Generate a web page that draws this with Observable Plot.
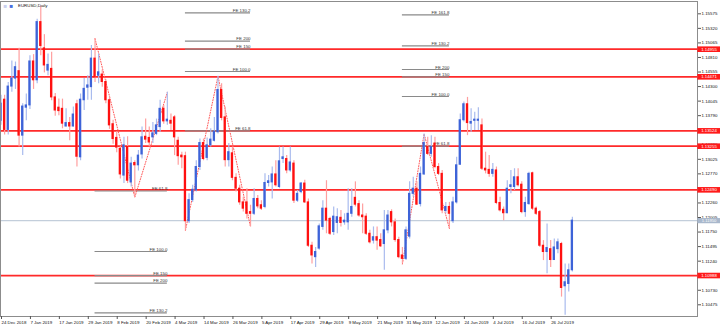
<!DOCTYPE html>
<html><head><meta charset="utf-8">
<script src="https://cdn.jsdelivr.net/npm/d3@7"></script>
<script src="https://cdn.jsdelivr.net/npm/@observablehq/plot@0.6"></script>
<style>
html,body{margin:0;padding:0;background:#fff;}
#chart{width:720px;height:329px;overflow:hidden;}
svg{display:block;}
</style></head><body><div id="chart"></div>
<script>
const title = "EURUSD,Daily";

const opens = [1.1370,1.1407,1.1354,1.1430,1.1444,1.1457,1.1344,1.1393,1.1397,1.1474,1.1441,1.1543,1.1497,1.1458,1.1461,1.1411,1.1393,1.1391,1.1360,1.1366,
1.1360,1.1399,1.1306,1.1406,1.1428,1.1429,1.1479,1.1449,1.1451,1.1438,1.1406,1.1364,1.1340,1.1321,1.1274,1.1324,1.1262,1.1296,1.1292,1.1311,
1.1342,1.1340,1.1341,1.1347,1.1359,1.1391,1.1369,1.1370,1.1376,1.1335,1.1309,1.1308,1.1194,1.1231,1.1248,1.1289,1.1331,1.1305,1.1327,1.1335,
1.1350,1.1424,1.1376,1.1301,1.1313,1.1270,1.1251,1.1227,1.1227,1.1210,1.1207,1.1233,1.1222,1.1219,1.1261,1.1262,1.1276,1.1254,1.1303,1.1303,
1.1283,1.1295,1.1230,1.1245,1.1260,1.1227,1.1151,1.1131,1.1146,1.1184,1.1216,1.1198,1.1175,1.1191,1.1200,1.1192,1.1192,1.1207,1.1235,1.1224,
1.1204,1.1202,1.1172,1.1160,1.1166,1.1161,1.1154,1.1178,1.1210,1.1192,1.1161,1.1134,1.1128,1.1167,1.1242,1.1251,1.1224,1.1276,1.1324,1.1312,
1.1330,1.1289,1.1277,1.1212,1.1219,1.1194,1.1227,1.1293,1.1371,1.1399,1.1365,1.1370,1.1370,1.1362,1.1286,1.1284,1.1277,1.1283,1.1226,1.1214,
1.1208,1.1254,1.1254,1.1271,1.1258,1.1210,1.1224,1.1278,1.1216,1.1210,1.1151,1.1140,1.1145,1.1126,1.1145,1.1154,1.1080,1.1084,1.1108];

const highs = [1.1415,1.1415,1.1437,1.1475,1.1473,1.1497,1.1400,1.1417,1.1484,1.1486,1.1548,1.1570,1.1521,1.1487,1.1490,1.1418,1.1408,1.1408,1.1391,1.1376,
1.1394,1.1406,1.1417,1.1444,1.1449,1.1502,1.1514,1.1487,1.1459,1.1442,1.1412,1.1371,1.1351,1.1325,1.1341,1.1342,1.1306,1.1300,1.1318,1.1359,
1.1373,1.1359,1.1367,1.1373,1.1406,1.1397,1.1420,1.1382,1.1379,1.1341,1.1315,1.1315,1.1242,1.1257,1.1300,1.1338,1.1338,1.1340,1.1356,1.1376,
1.1448,1.1435,1.1394,1.1330,1.1324,1.1277,1.1257,1.1236,1.1251,1.1222,1.1251,1.1239,1.1230,1.1277,1.1274,1.1289,1.1300,1.1324,1.1324,1.1309,
1.1324,1.1300,1.1248,1.1262,1.1266,1.1233,1.1157,1.1148,1.1189,1.1230,1.1265,1.1201,1.1219,1.1216,1.1213,1.1207,1.1251,1.1251,1.1263,1.1230,
1.1224,1.1207,1.1178,1.1184,1.1184,1.1172,1.1213,1.1213,1.1214,1.1198,1.1166,1.1148,1.1184,1.1263,1.1271,1.1263,1.1289,1.1347,1.1341,1.1344,
1.1341,1.1295,1.1283,1.1227,1.1227,1.1236,1.1306,1.1382,1.1403,1.1411,1.1391,1.1385,1.1393,1.1373,1.1315,1.1309,1.1295,1.1289,1.1236,1.1219,
1.1265,1.1283,1.1286,1.1286,1.1263,1.1236,1.1280,1.1280,1.1219,1.1213,1.1160,1.1189,1.1160,1.1163,1.1163,1.1157,1.1119,1.1119,1.1201];

const lows = [1.1362,1.1345,1.1345,1.1420,1.1425,1.1324,1.1309,1.1370,1.1390,1.1425,1.1435,1.1484,1.1454,1.1449,1.1405,1.1378,1.1379,1.1356,1.1359,1.1335,
1.1359,1.1289,1.1300,1.1388,1.1406,1.1406,1.1437,1.1435,1.1429,1.1400,1.1355,1.1329,1.1314,1.1268,1.1260,1.1260,1.1254,1.1236,1.1282,1.1303,
1.1330,1.1324,1.1330,1.1344,1.1350,1.1364,1.1362,1.1353,1.1309,1.1292,1.1286,1.1178,1.1190,1.1227,1.1245,1.1283,1.1300,1.1300,1.1324,1.1333,
1.1347,1.1370,1.1289,1.1289,1.1265,1.1245,1.1222,1.1210,1.1198,1.1184,1.1204,1.1216,1.1213,1.1216,1.1254,1.1233,1.1254,1.1251,1.1295,1.1277,
1.1280,1.1225,1.1227,1.1242,1.1225,1.1148,1.1119,1.1113,1.1143,1.1178,1.1172,1.1169,1.1169,1.1172,1.1184,1.1187,1.1178,1.1201,1.1219,1.1201,
1.1172,1.1169,1.1154,1.1154,1.1143,1.1148,1.1108,1.1172,1.1184,1.1157,1.1128,1.1119,1.1125,1.1163,1.1236,1.1222,1.1219,1.1274,1.1309,1.1306,
1.1286,1.1274,1.1207,1.1207,1.1181,1.1190,1.1224,1.1292,1.1368,1.1344,1.1350,1.1353,1.1353,1.1283,1.1277,1.1271,1.1271,1.1223,1.1210,1.1195,
1.1207,1.1242,1.1248,1.1254,1.1207,1.1201,1.1222,1.1213,1.1204,1.1148,1.1125,1.1102,1.1113,1.1125,1.1137,1.1061,1.1029,1.1070,1.1105];

const closes = [1.1400,1.1354,1.1430,1.1444,1.1464,1.1344,1.1395,1.1397,1.1474,1.1441,1.1543,1.1501,1.1467,1.1468,1.1411,1.1388,1.1387,1.1365,1.1366,1.1360,
1.1381,1.1307,1.1407,1.1426,1.1432,1.1479,1.1446,1.1455,1.1438,1.1406,1.1362,1.1338,1.1323,1.1276,1.1327,1.1265,1.1295,1.1292,1.1309,1.1341,
1.1337,1.1332,1.1348,1.1362,1.1391,1.1369,1.1372,1.1365,1.1341,1.1308,1.1306,1.1194,1.1231,1.1249,1.1289,1.1331,1.1303,1.1327,1.1337,1.1351,
1.1424,1.1375,1.1301,1.1315,1.1270,1.1251,1.1227,1.1216,1.1207,1.1207,1.1233,1.1220,1.1216,1.1261,1.1264,1.1276,1.1257,1.1299,1.1306,1.1283,
1.1297,1.1230,1.1242,1.1260,1.1227,1.1151,1.1134,1.1140,1.1185,1.1216,1.1195,1.1172,1.1202,1.1201,1.1191,1.1195,1.1207,1.1219,1.1223,1.1204,
1.1201,1.1172,1.1157,1.1166,1.1160,1.1150,1.1178,1.1204,1.1192,1.1161,1.1131,1.1128,1.1178,1.1242,1.1251,1.1223,1.1277,1.1331,1.1312,1.1324,
1.1289,1.1277,1.1213,1.1219,1.1207,1.1227,1.1292,1.1371,1.1399,1.1366,1.1368,1.1372,1.1372,1.1286,1.1283,1.1277,1.1284,1.1226,1.1213,1.1208,
1.1251,1.1257,1.1271,1.1257,1.1210,1.1226,1.1277,1.1216,1.1207,1.1151,1.1140,1.1147,1.1126,1.1148,1.1157,1.1077,1.1087,1.1108,1.1195];

const tickIndex = [0,8,16,24,32,40,48,56,64,72,80,88,96,104,112,120,128,136,144,152];
const tickLabels = ["24 Dec 2018","7 Jan 2019","17 Jan 2019","29 Jan 2019","8 Feb 2019","20 Feb 2019","4 Mar 2019","14 Mar 2019","26 Mar 2019","5 Apr 2019",
"17 Apr 2019","29 Apr 2019","9 May 2019","21 May 2019","31 May 2019","12 Jun 2019","24 Jun 2019","4 Jul 2019","16 Jul 2019","26 Jul 2019"];
const yTicks = [1.15575,1.15320,1.15065,1.14810,1.14555,1.14300,1.14045,1.13790,1.13535,1.13280,1.13025,1.12770,1.12515,1.12260,1.12005,1.11750,1.11495,1.11240,1.10985,1.10730,1.10475];

const redLevels = [1.14955,1.14471,1.13524,1.13255,1.12490,1.10988];

const feALabels = ["FE 61.8","FE 100.0","FE 150","FE 200","FE 130.2"];
const feALevels = [1.12470,1.11409,1.10988,1.10854,1.10335];
const feASpan = [26,46];
const feBLabels = ["FE 130.2","FE 200","FE 150","FE 100.0","FE 61.8"];
const feBLevels = [1.15593,1.15095,1.14955,1.14564,1.13524];
const feBSpan = [51,69];
const feCLabels = ["FE 161.8","FE 130.2","FE 200","FE 150","FE 100.0","FE 61.8"];
const feCLevels = [1.15557,1.15014,1.14599,1.14471,1.14126,1.13255];
const feCSpan = [111,124];

const zigSet = ["A","A","A","B","B","B","C","C","C"];
const zigIndex = [26,37,46,51,60,69,111,117,124];
const zigPrice = [1.1514,1.1236,1.1420,1.1178,1.1448,1.1184,1.1119,1.1347,1.1181];

// ---- derived tables ----
const xDomain = [-0.14, 192.6];
const candles = opens.map((o, i) => ({i, o, h: highs[i], l: lows[i], c: closes[i]}));
const up = d => d.c >= d.o;
const feRows = [];
[[feALabels, feALevels, feASpan], [feBLabels, feBLevels, feBSpan], [feCLabels, feCLevels, feCSpan]]
  .forEach(([labs, levs, span]) => levs.forEach((y, k) => feRows.push({y, label: labs[k], x1: span[0], x2: span[1]})));
const zigRows = zigIndex.map((i, k) => ({i, p: zigPrice[k], set: zigSet[k]}));
const currentPrice = closes[closes.length - 1];
// price-label boxes sit in the right margin, just past the end of the x domain
const boxX1 = xDomain[1] + 0.08, boxX2 = xDomain[1] + 6.4;

const chart = Plot.plot({
  width: 720, height: 329,
  marginLeft: 0, marginRight: 23, marginTop: 1, marginBottom: 13,
  x: {domain: xDomain},
  y: {domain: [1.10270, 1.15791]},
  color: {type: "identity"},
  style: {fontFamily: "'Liberation Sans', Arial, sans-serif", fontSize: "4.4px", color: "#000", background: "#fff", overflow: "visible"},
  marks: [
    Plot.ruleY(redLevels, {stroke: "#ff2a2a", strokeWidth: 1.7}),
    Plot.ruleY([currentPrice], {stroke: "#c3cedb", strokeWidth: 1.4}),
    Plot.ruleY(feRows, {y: "y", x1: "x1", x2: "x2", stroke: "#8a8a8a", strokeWidth: 1.2}),
    Plot.text(feRows, {x: "x2", y: "y", text: "label", textAnchor: "end", lineAnchor: "bottom", dy: -0.9, fill: "#333"}),
    Plot.line(zigRows, {x: "i", y: "p", z: "set", stroke: "#ff5a5a", strokeWidth: 1, strokeDasharray: "1,1.6"}),
    Plot.ruleX(candles, {x: "i", y1: "l", y2: "h", stroke: d => up(d) ? "#a9bbee" : "#ff9f9f", strokeWidth: 1.2}),
    Plot.rect(candles, {x1: d => d.i - 0.32, x2: d => d.i + 0.32, y1: d => Math.min(d.o, d.c), y2: d => Math.max(d.o, d.c),
      fill: d => up(d) ? "#3d63d8" : "#ff1010", insetTop: -0.5, insetBottom: -0.5}),
    Plot.frame({stroke: "#8c8c8c"}),
    Plot.axisY(yTicks, {anchor: "right", tickSize: 3, tickPadding: 1, tickFormat: d => d.toFixed(5), label: null, stroke: "#555", fill: "#111"}),
    Plot.axisX(tickIndex, {anchor: "bottom", tickSize: 3, tickPadding: 1.5, tickFormat: d => tickLabels[tickIndex.indexOf(d)],
      textAnchor: "start", dx: 0.5, label: null, stroke: "#555", fill: "#111"}),
    Plot.text(["■"], {frameAnchor: "top-left", dx: 3, dy: 2, lineAnchor: "top", textAnchor: "start", fill: "#c9d0ee", fontSize: 6}),
    Plot.text(["■"], {frameAnchor: "top-left", dx: 9, dy: 2, lineAnchor: "top", textAnchor: "start", fill: "#4a6ee0", fontSize: 6}),
    Plot.text([title], {frameAnchor: "top-left", dx: 17.5, dy: 2.5, textAnchor: "start", lineAnchor: "top", fill: "#111"}),
    Plot.ruleY(redLevels, {x1: () => boxX1, x2: () => boxX2, stroke: "#ff1a1a", strokeWidth: 5.6}),
    Plot.ruleY([currentPrice], {x1: () => boxX1, x2: () => boxX2, stroke: "#a9b8cc", strokeWidth: 5.2}),
    Plot.text(redLevels, {y: d => d, frameAnchor: "right", dx: 11.5, text: d => d.toFixed(5), fill: "white", textAnchor: "middle", fontSize: 4.3}),
    Plot.text([currentPrice], {y: d => d, frameAnchor: "right", dx: 11.5, dy: 0.4, text: d => d.toFixed(5), fill: "white", textAnchor: "middle", fontSize: 4.1})
  ]
});
document.getElementById("chart").append(chart);
</script></body></html>
